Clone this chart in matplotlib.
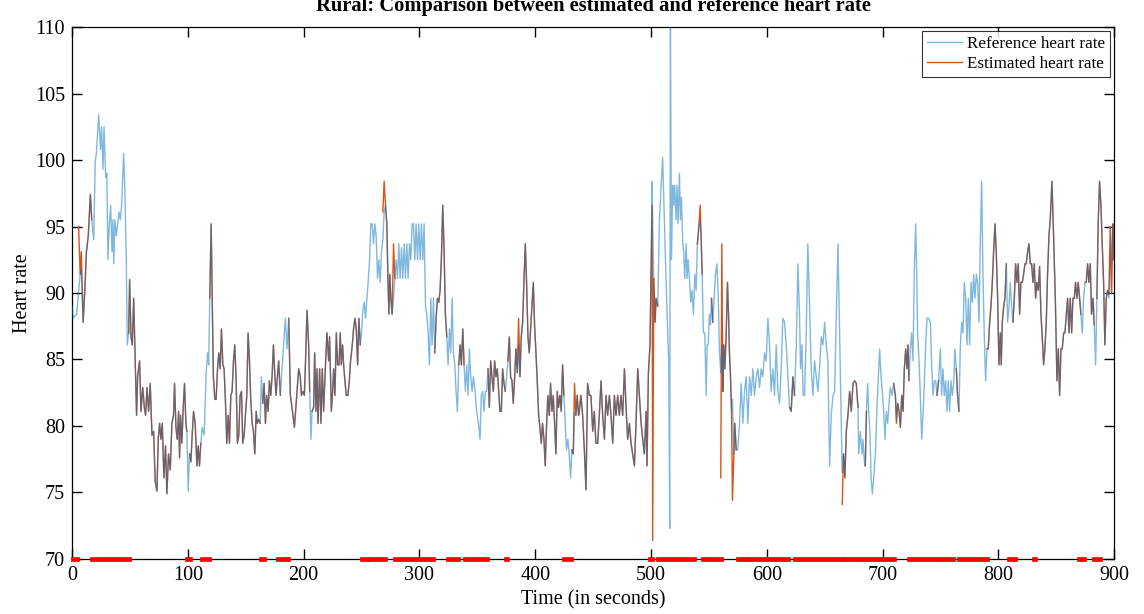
import matplotlib
matplotlib.use('Agg')
import matplotlib.pyplot as plt
import numpy as np

# reference heart rate (blue)
ref_time = [
    0, 1, 2.5, 4, 5.7, 7, 8, 9.5, 11, 12.4,
    14, 15.8, 17, 18.7, 20, 21, 23, 24.5, 25.5, 26.7,
    27.6, 29, 30, 31, 32, 33.3, 34.5, 35.3, 36, 37,
    38.2, 39.4, 40.5, 41.7, 42.8, 44.5, 45.6, 46.8, 47.7, 48.9,
    49.7, 50.9, 52, 53.2, 54, 55.7, 56.6, 58.3, 59.5, 61,
    62.4, 63.5, 64.7, 66.1, 67.5, 69, 70.4, 71.8, 73.3, 74.4,
    75.6, 76.7, 77.9, 79.3, 80.7, 81.9, 83.3, 84.8, 86.2, 87.6,
    88.5, 89.7, 90.8, 92, 92.8, 93.7, 94.8, 96, 97.1, 98.3,
    99.1, 100.3, 101.4, 102.6, 103.7, 104.9, 106.3, 107.8, 108.9, 110,
    111.2, 112.4, 114.1, 115, 115.8, 117, 118, 118.9, 120.1, 121,
    122, 123.3, 124.4, 125.6, 126.7, 127.9, 129, 130.2, 131.3, 132.5,
    133.6, 134.8, 135.9, 137.1, 138.2, 139.4, 140.5, 141.7, 142.8, 144,
    145.1, 146.3, 147.4, 148.6, 149.7, 150.9, 152, 153.2, 154.3, 155.5,
    156.6, 157.8, 159, 160, 161.2, 162.4, 163.5, 164.7, 165.8, 167,
    168, 169.3, 170.4, 171.6, 172.7, 173.9, 175, 176.1, 177.3, 178.4,
    179.9, 181.3, 184.2, 185.6, 187.1, 188.5, 189.9, 192, 194.3, 195.7,
    197.1, 198, 199.4, 200.6, 201.4, 202.9, 204.3, 205.2, 206.3, 207.2,
    208.6, 209.5, 210.6, 211.5, 212.4, 213.8, 214.9, 216.1, 217.2, 218.7,
    220.1, 221.6, 222.4, 223.9, 225, 225.9, 227, 228.2, 229.3, 230.5,
    231.6, 232.5, 233.6, 234.5, 235.6, 236.8, 238.2, 239.4, 240.5, 242,
    243.1, 244.3, 245.4, 246.6, 247.7, 248.9, 250, 251.1, 252.3, 253.4,
    254.6, 255.7, 256.9, 258, 259.2, 260.3, 261.5, 262.6, 263.8, 264.9,
    266.1, 267.2, 268.4, 269.5, 270.7, 271.8, 272.7, 273.6, 274.4, 275.3,
    276.4, 277.6, 278.7, 279.9, 281, 282.2, 283.3, 284.5, 285.6, 286.8,
    287.9, 289.1, 290.2, 291.4, 292.5, 293.7, 294.8, 296, 297.1, 298.3,
    299.4, 300.6, 301.7, 302.9, 304, 305.2, 306.3, 307.5, 308.6, 309.8,
    310.9, 312.1, 313.2, 314.4, 315.5, 316.7, 317.8, 319, 320.1, 321.3,
    322.4, 323.6, 324.7, 325.9, 327, 328.2, 329.3, 330.5, 331.6, 332.8,
    333.9, 335.1, 336.2, 337.4, 338.5, 339.7, 340.8, 342, 343.1, 344.3,
    345.4, 346.6, 348, 349.4, 350.9, 352.3, 353.4, 354.6, 355.7, 356.9,
    358, 359.2, 360.3, 361.5, 362.6, 363.8, 364.9, 366.1, 367.2, 368.4,
    369.5, 370.7, 371.8, 373, 374.1, 375.3, 376.4, 377.6, 378.7, 379.9,
    381, 382.2, 383.3, 384.5, 385.6, 386.8, 387.9, 389.1, 390.2, 391.4,
    392.5, 393.7, 394.8, 396, 397.1, 398.3, 399.4, 400.6, 401.7, 402.9,
    404, 405.2, 406.3, 407.5, 408.6, 409.8, 410.9, 412.1, 413.2, 414.4,
    415.5, 416.7, 417.8, 419, 420.1, 421.3, 422.4, 423.6, 424.7, 425.9,
    427, 428.2, 429.3, 430.5, 431.6, 432.8, 433.9, 435.1, 436.2, 437.4,
    438, 439.4, 440.9, 442.4, 443.8, 445.2, 446.7, 448.1, 449.6, 451,
    452.4, 453.9, 455.3, 456.8, 458.2, 459.7, 461.1, 462.5, 464, 465.4,
    466.9, 468.3, 469.7, 471.2, 472.6, 474, 475.5, 477, 478.4, 479.8,
    481.3, 482.7, 484.1, 485.6, 487, 488.5, 489.9, 491.4, 492.8, 494.2,
    495.7, 496.5, 497.7, 499.1, 500.9, 501.4, 502.3, 503.5, 504.3, 505.8,
    507.2, 508.6, 510, 511.5, 513, 514.4, 515.3, 516.1, 516.7, 517.6,
    518.7, 519.6, 520.4, 521.6, 522.4, 523.3, 524.5, 525.3, 526.2, 527.4,
    528.2, 529.1, 530.3, 531.1, 532, 533.1, 534.3, 535.4, 536.6, 537.8,
    538.9, 540, 541.2, 542.4, 543.2, 544.1, 545.2, 546.4, 547.6, 548.4,
    549.3, 550.4, 551.3, 552.2, 553.3, 554.5, 555.6, 556.8, 557.9, 559.1,
    560.2, 561.1, 562, 562.8, 563.7, 564.8, 566, 566.9, 567.7, 568.6,
    569.5, 570.3, 571.5, 572.3, 573.5, 574.9, 576.4, 577.8, 579.3, 580.7,
    582.1, 583.6, 585, 586.5, 587.9, 589.3, 590.8, 592.2, 593.7, 595.1,
    596.5, 598, 599.4, 600.9, 602.3, 603.7, 605.2, 606.6, 608.1, 609.5,
    610.9, 612.4, 613.8, 615.3, 616.7, 618.2, 619.6, 621, 622.5, 623.9,
    625.4, 626.8, 628.2, 629.1, 630.3, 631.4, 632.6, 634, 635.4, 636.9,
    638.3, 639.8, 641.2, 642.7, 644.1, 645.5, 647, 648.4, 649.9, 651.3,
    652.7, 654.2, 655.6, 657.1, 658.5, 659.9, 661.4, 662.8, 664.3, 665.1,
    666.2, 667.4, 668.6, 670, 671.5, 672.9, 674.4, 675.8, 677.2, 678.7,
    679.3, 680.7, 682.2, 683, 684.2, 685, 686, 687, 688.1, 689,
    690, 691.1, 692.3, 693.7, 695.1, 696.3, 697.4, 698.6, 699.7, 700.9,
    702, 703.2, 704.3, 705.5, 706.6, 708.1, 709.5, 711, 711.9, 713,
    714.2, 715.3, 716.5, 717.6, 718.7, 719.9, 721, 721.9, 722.7, 723.9,
    725, 726.2, 727.3, 728.5, 729.4, 730.2, 731.4, 732.5, 733.7, 734.8,
    736, 737.1, 738.3, 739.7, 741.2, 742.3, 743.5, 744.6, 745.8, 746.9,
    748.3, 749.8, 750.9, 752.1, 753.2, 754.4, 755.5, 756.7, 757.8, 759,
    760.1, 761.3, 762.4, 763.6, 764.7, 765.9, 767, 768.2, 769.4, 770.5,
    771.7, 772.8, 774, 775.1, 776.3, 777.4, 778.6, 779.7, 780.9, 782,
    783.2, 784.3, 785.5, 786.6, 787.8, 788.9, 790.1, 791.2, 792.4, 793.5,
    794.7, 795.8, 797, 798.1, 799.3, 800.4, 801.6, 802.4, 803.3, 804.5,
    805.6, 806.8, 807.9, 809.1, 810.2, 811.4, 812.5, 813.7, 814.8, 816,
    817.1, 818.3, 819.4, 820.6, 821.7, 822.9, 824, 825.2, 826.3, 827.5,
    828.6, 829.8, 830.9, 832.1, 833.2, 834.4, 835.5, 836.7, 837.8, 839,
    840.1, 841.3, 842.4, 843.6, 844.7, 846.2, 847.6, 849.1, 850.5, 851.7,
    852.8, 854, 855.1, 856.3, 857.4, 858.6, 859.7, 860.9, 862, 863.2,
    864.3, 865.5, 866.6, 867.8, 868.9, 870.1, 871.2, 872.4, 873.5, 874.7,
    875.8, 877, 878.1, 879.3, 880.4, 881.6, 882.7, 883.9, 885, 886.2,
    887.3, 888.5, 889.6, 890.8, 891.9, 893.1, 894.2, 895.4, 896.5, 897.7,
    898.9, 899.4, 900,
]
ref_hr = [
    89, 88.1, 88.3, 88.4, 90.2, 91.4, 91.8, 87.8, 90.2, 93.1,
    94.3, 97.4, 95.5, 94, 99.9, 100.5, 103.4, 100.8, 102.5, 99.3,
    102.5, 98.7, 99, 92.5, 94.9, 96.6, 93.1, 95.5, 92.2, 95.5,
    94.3, 95.2, 96.1, 95.5, 96.6, 100.5, 97.8, 92.5, 86.1, 87,
    91, 86.7, 86.1, 89.6, 86.7, 80.8, 83.7, 84.9, 81.1, 82.9,
    81.4, 80.8, 82.9, 81.1, 83.2, 79.3, 79.6, 75.8, 75.1, 79,
    80.2, 79, 80.2, 76.1, 78.5, 74.9, 77.9, 76.7, 80.2, 80.8,
    83.2, 79.9, 79, 81.1, 77.6, 80.8, 78.7, 81.4, 83.2, 80.2,
    79.6, 75.1, 77.9, 77.3, 79.3, 81.1, 80.2, 77, 78.5, 77,
    78.7, 79.9, 79.3, 81.7, 84, 85.5, 84.6, 89.6, 95.2, 89.9,
    83.7, 82, 82, 84.3, 85.5, 84.3, 87.3, 84.6, 84.3, 81.7,
    78.7, 80.8, 78.7, 82.3, 82.6, 84.9, 86.1, 83.4, 78.7, 79.3,
    82.3, 82.6, 78.7, 79.3, 80.8, 82.3, 87, 84.9, 82, 80.2,
    79.6, 77.9, 81.1, 80.2, 80.5, 80.2, 83.7, 81.7, 83.2, 80.2,
    82.3, 81.1, 83.4, 82.3, 83.7, 86.1, 84, 82.3, 83.7, 84.9,
    82.3, 84.3, 88.1, 85.8, 88.1, 82.3, 81.4, 79.9, 82.6, 84.3,
    83.7, 82.3, 82.6, 82.3, 84.3, 88.7, 86.1, 82.6, 79, 81.1,
    81.4, 85.5, 81.1, 84.3, 80.2, 84.3, 80.2, 84.3, 81.1, 84.3,
    87, 84.9, 86.7, 81.1, 82.6, 84.3, 82.3, 87, 84.6, 84.6,
    87, 84.6, 86.1, 84.6, 83.4, 82.3, 82.3, 83.4, 84.9, 86.1,
    87.3, 88.1, 87.3, 84.6, 88.1, 86.1, 87, 88.7, 89.3, 88.1,
    89.6, 90.8, 92.5, 95.2, 95.2, 93.7, 95.2, 94.3, 91.1, 92.5,
    90.8, 93.1, 94, 96.1, 96.6, 95.2, 91.4, 88.4, 91.4, 89.6,
    88.4, 89.6, 91.1, 92.5, 91.1, 93.7, 91.1, 93.4, 91.1, 93.7,
    91.1, 93.7, 91.1, 93.7, 92.5, 95.2, 95.2, 92.5, 95.2, 92.5,
    95.2, 92.5, 95.2, 92.5, 95.2, 89, 88.4, 87, 84.6, 89.6,
    86.1, 89.6, 85.5, 88.1, 89.6, 89.3, 90.2, 92.8, 96.6, 93.1,
    88.4, 86.7, 84.6, 87.3, 85.5, 89.6, 85.5, 84.6, 82.6, 81.1,
    84.6, 86.1, 84.6, 87.3, 84.6, 82.6, 84.6, 82.3, 85.8, 83.7,
    82.6, 83.7, 82.6, 81.1, 80.2, 79, 82.3, 82.6, 81.1, 82.6,
    82.6, 84.3, 81.4, 84.9, 83.7, 82.6, 84.9, 83.7, 84.3, 82.6,
    81.1, 81.1, 84.3, 83.2, 82.6, 83.7, 84.9, 86.7, 83.7, 83.4,
    81.7, 83.7, 85.8, 84, 86, 83.7, 86.7, 87.8, 90.8, 93.7,
    90.8, 86.7, 85.5, 87.3, 89, 90.8, 87.6, 85.5, 83.4, 80.8,
    79.9, 78.7, 80.2, 79, 77, 80.2, 82.3, 80.8, 83.2, 81.1,
    82.3, 80.2, 77.9, 82.6, 81.4, 82.3, 81.1, 84.6, 82.3, 80.2,
    78.2, 79, 77.9, 76.1, 78.2, 77.9, 81, 80.8, 82.3, 80.8,
    81.1, 82.3, 80.8, 78.2, 75.2, 83.2, 82.3, 82.3, 79.6, 81.1,
    78.7, 78.7, 80.8, 83.4, 80.8, 79, 82.3, 80.8, 82.3, 80.8,
    78.7, 82.3, 80.8, 82.3, 80.8, 82.3, 80.8, 84.3, 81.4, 79,
    80.2, 78.7, 77.9, 77, 80.2, 84.3, 82.3, 80.2, 79, 77.9,
    81.1, 77, 84, 86.1, 98.4, 95, 91.1, 87.8, 89.6, 89,
    95.5, 97.8, 100.2, 95.5, 90.8, 87, 84.6, 72.3, 111.5, 92.5,
    98.1, 96.6, 98.1, 95.5, 98.1, 95.2, 99, 95.5, 97.2, 93.7,
    93.1, 91.1, 93.7, 91.1, 92.5, 91.1, 89.3, 90.2, 88.4, 91.4,
    90.2, 93.7, 94.9, 95.5, 94.3, 91.4, 87, 87, 82.3, 86.1,
    86.1, 88.4, 87.6, 89.6, 87.8, 89.6, 91.4, 92.2, 90.2, 85.5,
    84, 86, 82.6, 86.1, 84.3, 86.7, 90.8, 88.4, 85.5, 83.7,
    81.1, 82, 77.9, 80.2, 78.2, 78.2, 80.2, 83.2, 80.2, 82.6,
    83.7, 80.2, 83.7, 82.3, 84.3, 82.3, 83.7, 84.3, 82.9, 84.3,
    83.7, 85.5, 84.9, 88.1, 86.1, 82.6, 84.3, 82.3, 86.1, 82.6,
    81.7, 84.3, 88.1, 87.8, 86.1, 83.7, 81.4, 81.1, 83.7, 82.3,
    86.1, 92.2, 88.4, 84.3, 86.1, 82.3, 82.3, 87, 93.7, 89,
    84.3, 82.3, 84.9, 83.7, 82.6, 84.3, 86.7, 86.1, 87.8, 86.1,
    84.9, 77, 80.8, 82.3, 82.6, 87.8, 93.7, 87, 80, 76.5,
    77.9, 76.1, 79.6, 80.8, 82.6, 81.1, 83.2, 83.4, 83.2, 81.4,
    77.9, 79.6, 77.9, 79, 77.3, 77, 81.1, 83.2, 80.8, 79.6,
    76.1, 74.9, 76.1, 77.9, 81.4, 83.7, 85.8, 83.7, 82.6, 81.1,
    79, 81.1, 80.2, 81.7, 82.9, 82.3, 83.2, 82.3, 80.5, 81.7,
    81.1, 79.9, 82.3, 81.1, 84.3, 85.8, 84.3, 86.1, 83.4, 85.8,
    87, 84.9, 91.7, 95.2, 91.4, 87, 84.9, 82.3, 79, 80.8,
    83.2, 86.1, 88.1, 88.1, 87.8, 84.6, 82.3, 83.4, 83.4, 82.3,
    83.4, 85.8, 82.3, 84.3, 82.3, 83.4, 81.1, 83.4, 81.1, 83.4,
    82.3, 83.2, 85.8, 84.3, 82.3, 81.1, 85.8, 87.8, 87, 90.8,
    89.6, 86.1, 89.6, 86.1, 90.8, 89.3, 91.4, 89.6, 91.4, 90.8,
    87.8, 93.7, 98.4, 91.4, 86.7, 83.4, 85.8, 85.8, 87.8, 89,
    90.8, 93.1, 95.2, 93.1, 89.6, 84.6, 87, 84.6, 87.8, 89,
    89.6, 92.2, 87.8, 89, 90.8, 89, 87.8, 89.6, 92.2, 90.8,
    92.2, 88.4, 90.8, 90.8, 91.4, 92.2, 92.2, 93.1, 93.7, 92.2,
    92.2, 90.8, 92.2, 89.6, 90.8, 90.2, 92, 88.4, 86.7, 84.6,
    85.8, 87.8, 91.4, 94.3, 95.5, 98.4, 94.3, 89.6, 83.4, 85.8,
    82.3, 85.8, 85.8, 87, 87, 88.4, 89.6, 87, 89.6, 87,
    89.6, 89.6, 90.8, 89.6, 90.8, 89.6, 88.4, 87, 89.6, 90.8,
    90.8, 92.2, 90.8, 92.2, 88.4, 89.6, 87.6, 84.6, 89.6, 95.5,
    98.4, 96.6, 93.7, 90.8, 86.1, 89.6, 90.2, 89.6, 92, 93.7,
    95.2, 92.5, 92.5,
]

# estimated heart rate: same as reference except where it has no value
# (blue only) and at the points where it departs from the reference
est_gap_start = [0, 18.5, 99.5, 112, 163, 180.5, 205.5, 249.5, 279, 324.5,
                 339, 374.5, 425.5, 506, 545, 554, 574.5, 624, 679, 686.5,
                 723.5, 749.5, 766.5, 807, 871.5, 883]
est_gap_end = [5, 48.5, 101, 118.5, 164.2, 186, 207, 268, 312.5, 333,
               358.5, 375.5, 431, 539.5, 552, 559.5, 619.5, 664.8, 684.5, 709,
               746.5, 762.5, 790, 812, 874, 885]
est_diff_time = [5.7, 8, 268.4, 269.5, 277.6, 385.6, 433.9, 500.9, 501.4,
                 542.4, 560.2, 561.1, 570.3, 665.1, 711.9, 895.4, 896.5, 897.7]
est_diff_hr = [95, 93.1, 96.1, 98.4, 93.7, 88.1, 83.2, 96.6, 71.4,
               96.6, 76.1, 93.7, 74.4, 74.1, 80.2, 90, 95, 90]

# red flags drawn on the time axis
flag_start = [0.5, 17.5, 99, 112.5, 163, 178, 250, 256.5, 279, 324.5,
              339, 374.8, 425, 499, 506, 545, 554, 575.5, 583.5, 624,
              667, 679.5, 688, 722.5, 748.5, 765.5, 809, 830.5, 869.5, 882.5]
flag_end = [4.5, 49, 101.5, 118, 165.5, 186.5, 255.5, 270, 312, 333.5,
            358, 375.8, 431, 501, 537.5, 550.5, 560.5, 582, 618, 664.5,
            676, 685, 709.5, 745.5, 761, 790, 814.5, 831.5, 873.5, 888]

x_ticks = [0, 100, 200, 300, 400, 500, 600, 700, 800, 900]
y_ticks = [70, 75, 80, 85, 90, 95, 100, 105, 110]

plt.rcParams['font.family'] = ['Liberation Serif', 'DejaVu Serif']

t = np.array(ref_time, dtype=float)
ref = np.array(ref_hr, dtype=float)
est = ref.copy()
for t0, v in zip(est_diff_time, est_diff_hr):
    est[np.isclose(t, t0)] = v
for a, b in zip(est_gap_start, est_gap_end):
    est[(t > a) & (t < b)] = np.nan

fig = plt.figure(figsize=(11.44, 6.14), dpi=100)
ax = fig.add_axes([0.063, 0.0896, 0.911, 0.8664])

ax.plot(t, ref, color='#0072BD', lw=1.0, alpha=0.5, zorder=3,
        label='Reference heart rate')
ax.plot(t, est, color='#D95319', lw=1.0, zorder=2,
        label='Estimated heart rate')

for a, b in zip(flag_start, flag_end):
    ax.plot([a, b], [70, 70], color='red', lw=3.4, solid_capstyle='projecting',
            clip_on=False, zorder=5)

ax.set_xlim(0, 900)
ax.set_ylim(70, 110)
ax.set_xticks(x_ticks)
ax.set_yticks(y_ticks)
ax.tick_params(direction='in', top=True, right=True, length=7, width=1,
               labelsize=14.5, colors='black', pad=5)
for sp in ax.spines.values():
    sp.set_linewidth(0.9)

ax.set_xlabel('Time (in seconds)', fontsize=14.5, labelpad=4)
ax.set_ylabel('Heart rate', fontsize=14.5, labelpad=2)
fig.text(0.519, 1 - 11 / 614, 'Rural: Comparison between estimated and reference heart rate',
         ha='center', va='baseline', fontsize=14.8, fontweight='bold')

leg = ax.legend(loc='upper right', fontsize=12.3, frameon=True, fancybox=False,
                handlelength=2.0, borderaxespad=0.25, borderpad=0.3,
                labelspacing=0.2, handletextpad=0.3)
leg.get_frame().set_edgecolor('black')
leg.get_frame().set_linewidth(0.8)

fig.savefig('out.png', dpi=100)
